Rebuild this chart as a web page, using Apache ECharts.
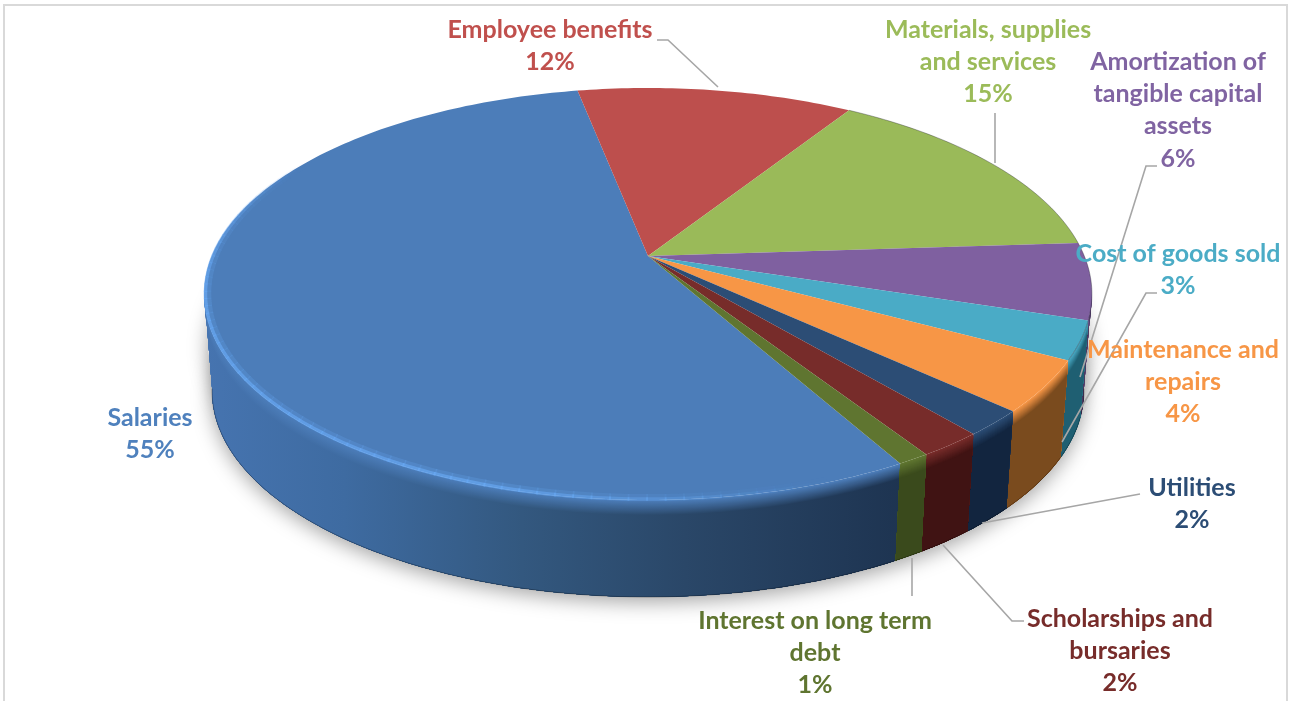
<!DOCTYPE html>
<html>
<head>
<meta charset="utf-8">
<title>Expenses by type</title>
<script src="https://cdn.jsdelivr.net/npm/echarts@6/dist/echarts.min.js"></script>
<style>
html, body { margin: 0; padding: 0; background: #fff; }
#chart { width: 1291px; height: 701px; }
</style>
</head>
<body>
<div id="chart"></div>
<script>
// Expense shares, clockwise from the first slice.
const categories = [
  'Salaries', 'Employee benefits', 'Materials, supplies\nand services',
  'Amortization of\ntangible capital\nassets', 'Cost of goods sold',
  'Maintenance and\nrepairs', 'Utilities', 'Scholarships and\nbursaries',
  'Interest on long term\ndebt'
];
const shares = [55, 12, 15, 6, 3, 4, 2, 2, 1];
const faceColors = ['#4c7db9', '#bd4f4d', '#9aba59', '#7f60a0', '#4aabc6', '#f79646', '#2c4d75', '#772c2a', '#5f7530'];
const wallColors = ['#2f4f78', '#6e2c2a', '#5a6e34', '#4b3a60', '#1f5f72', '#7a4b1e', '#12253f', '#401313', '#3a4a1c'];
const labelColors = ['#4f81bd', '#c0504d', '#9bbb59', '#8064a2', '#4bacc6', '#f79646', '#2c4d75', '#772c2a', '#5f7530'];

// Where each caption sits, and the leader line that ties it to its slice.
const captionAnchors = [
  [150, 434], [550, 46], [988, 62], [1178, 110], [1178, 270], [1183, 382], [1192, 504], [1120, 651], [815, 653]
];
const leaderPaths = [
  null,
  [[657, 40], [668, 40], [718, 87]],
  [[995, 113], [995, 163]],
  [[1157, 166], [1146, 166], [1080, 377]],
  [[1157, 293], [1146, 293], [1062, 442]],
  null,
  [[1140, 494], [982, 523]],
  [[1024, 621], [1012, 621], [943, 545]],
  [[912, 558], [912, 596]]
];

// Disc seen in perspective: the hub sits above the centre of the projected ellipse.
const hub = { x: 648, y: 256, a: 436.3, b: 199, k: 0.1844 };
const depth = 97;
const baseScale = 0.982;
const baseCentreX = 647;
const firstSliceAngle = 151;
// Only this stretch of the rim, between its side extremes, needs a wall.
const frontFrom = 100;
const frontTo = 260;
const LinearGradient = echarts.graphic.LinearGradient;

function project(deg, r) {
  const t = deg * Math.PI / 180;
  const u = r * Math.sin(t), v = -r * Math.cos(t);
  const w = 1 - hub.k * v;
  return [hub.x + hub.a * u / w, hub.y + hub.b * v / w];
}
function arc(from, to, r) {
  const pts = [];
  const n = Math.max(2, Math.ceil(to - from));
  for (let i = 0; i <= n; i++) pts.push(project(from + (to - from) * i / n, r));
  return pts;
}
function lower(pts, frac) {
  return pts.map(p => [baseCentreX + (p[0] - baseCentreX) * (1 - (1 - baseScale) * frac), p[1] + depth * frac]);
}
function hexRgb(c) {
  return [1, 3, 5].map(i => parseInt(c.substr(i, 2), 16));
}
function mix(c1, c2, t) {
  const a = hexRgb(c1), b = hexRgb(c2);
  return 'rgb(' + a.map((x, i) => Math.round(x + (b[i] - x) * t)).join(',') + ')';
}

// The long wall darkens from left to right, the short ones stay nearly flat.
const longWallStops = [[0, '#4674b0'], [0.2, '#3e6ba1'], [0.45, '#33587f'], [0.68, '#2a4768'], [1, '#1d3350']];
function wallFill(index, t) {
  if (index === 0) {
    return new LinearGradient(203, 0, 912, 0, longWallStops.map(s => ({
      offset: s[0], color: mix(faceColors[0], s[1], t)
    })), true);
  }
  return mix(faceColors[index], wallColors[index], t);
}

// Start and end angle of every slice come from the shares.
const total = shares.reduce((s, v) => s + v, 0);
let running = firstSliceAngle;
const sliceRows = shares.map((v, i) => {
  const start = running;
  running += v / total * 360;
  return [v, start, running, i];
});

function renderWall(params, api) {
  const turn = api.value(1) >= 360 ? 360 : 0;
  const start = Math.max(api.value(1) - turn, frontFrom);
  const end = Math.min(api.value(2) - turn, frontTo);
  const i = api.value(3);
  if (end <= start) {
    return { type: 'group', children: [] };
  }
  const top = arc(start, end, 1);
  const base = lower(top, 1);
  const bottom = base.slice().reverse();
  const children = [];
  // Soft transition from the face colour into the wall, painted front to back.
  const steps = 14, soft = 0.15;
  for (let s = 0; s <= steps; s++) {
    children.push({
      type: 'polygon',
      shape: { points: lower(top, soft * s / steps).concat(bottom) },
      style: { fill: wallFill(i, s / steps) }
    });
  }
  children.push({
    type: 'polyline',
    shape: { points: base },
    style: { stroke: 'rgba(0,0,0,0.3)', lineWidth: 1, fill: null }
  });
  return { type: 'group', children };
}

// Strength of the bevel highlight around the front-left of the rim.
const glintAngles = [160, 195, 260, 280, 300];
const glintAlpha = [0, 0.72, 0.75, 0.42, 0];
function glintAt(deg) {
  for (let j = 1; j < glintAngles.length; j++) {
    if (deg <= glintAngles[j]) {
      const t = (deg - glintAngles[j - 1]) / (glintAngles[j] - glintAngles[j - 1]);
      return glintAlpha[j - 1] + (glintAlpha[j] - glintAlpha[j - 1]) * t;
    }
  }
  return 0;
}

function renderFace(params, api) {
  const start = api.value(1), end = api.value(2), i = api.value(3);
  const rim = arc(start, end, 1);
  const children = [{
    type: 'polygon',
    shape: { points: [[hub.x, hub.y]].concat(rim) },
    style: { fill: faceColors[i] }
  }];
  if (i > 1 && i < 5) {
    children.push({
      type: 'polyline',
      shape: { points: rim },
      style: { stroke: 'rgba(30,30,40,0.35)', lineWidth: 1, fill: null }
    });
  }
  if (i === 0) {
    for (let d = glintAngles[0]; d < glintAngles[4]; d += 2) {
      const alpha = glintAt(d + 1);
      children.push({
        type: 'polyline',
        shape: { points: arc(d, d + 2.2, 0.992) },
        style: { fill: null, lineWidth: 7, stroke: 'rgba(105,170,245,' + (alpha * 0.3).toFixed(3) + ')' }
      });
      children.push({
        type: 'polyline',
        shape: { points: arc(d, d + 2.2, 0.997) },
        style: { fill: null, lineWidth: 3.5, stroke: 'rgba(105,170,245,' + (alpha * 0.85).toFixed(3) + ')' }
      });
    }
  }
  return { type: 'group', children };
}

function renderCaption(params, api) {
  const i = api.value(3);
  const children = [];
  if (leaderPaths[i]) {
    children.push({
      type: 'polyline',
      shape: { points: leaderPaths[i] },
      style: { stroke: '#a6a6a6', lineWidth: 1.6, fill: null }
    });
  }
  children.push({
    type: 'text',
    x: captionAnchors[i][0],
    y: captionAnchors[i][1],
    style: {
      text: categories[i] + '\n' + api.value(0) + '%',
      fill: labelColors[i],
      font: 'bold 25px Lato',
      lineHeight: 32.3,
      align: 'center',
      verticalAlign: 'middle'
    }
  });
  return { type: 'group', children };
}

// Soft cast shadow: one disc at the foot of the wall, one halfway up it.
function renderShadow(params, api) {
  return {
    type: 'polygon',
    shape: { points: lower(arc(0, 360, 1), api.value(0)) },
    style: { fill: '#ffffff', shadowBlur: 20, shadowOffsetY: 5, shadowColor: 'rgba(0,0,0,0.36)' }
  };
}

const chart = echarts.init(document.getElementById('chart'), null, { renderer: 'canvas' });
chart.setOption({
  animation: false,
  backgroundColor: '#ffffff',
  graphic: [{
    type: 'rect',
    shape: { x: 4, y: 5, width: 1283, height: 730 },
    style: { fill: null, stroke: '#d9d9d9', lineWidth: 2 },
    silent: true
  }],
  series: [
    { type: 'custom', coordinateSystem: 'none', silent: true, z: 2, data: [[0.5], [1]], renderItem: renderShadow },
    { type: 'custom', coordinateSystem: 'none', silent: true, z: 3, data: sliceRows, renderItem: renderWall },
    { type: 'custom', coordinateSystem: 'none', silent: true, z: 4, data: sliceRows, renderItem: renderFace },
    { type: 'custom', coordinateSystem: 'none', silent: true, z: 5, data: sliceRows, renderItem: renderCaption }
  ]
});
</script>
</body>
</html>
